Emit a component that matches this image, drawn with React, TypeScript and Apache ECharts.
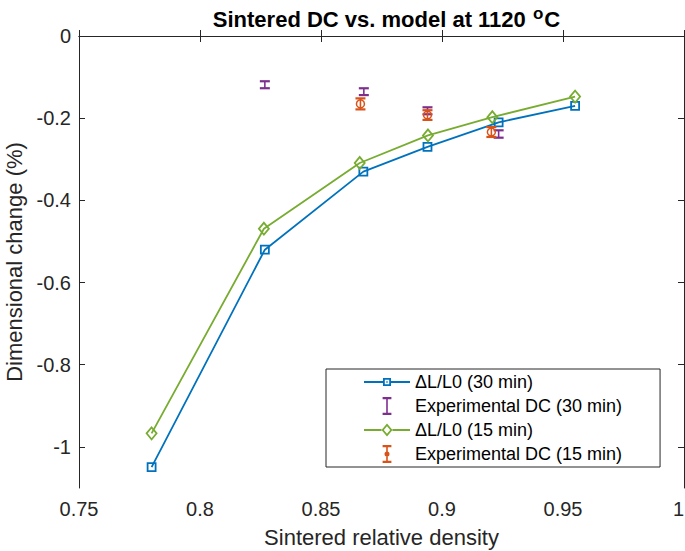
import React, { useEffect, useRef } from 'react';
import * as echarts from 'echarts';

const xTicks = [0.75, 0.8, 0.85, 0.9, 0.95, 1];
const yTicks = [0, -0.2, -0.4, -0.6, -0.8, -1];

const density30 = [0.78, 0.8268, 0.8675, 0.894, 0.9234, 0.955];
const model30 = [-1.049, -0.52, -0.33, -0.27, -0.21, -0.17];
const density15 = [0.78, 0.8264, 0.866, 0.8942, 0.9208, 0.955];
const model15 = [-0.967, -0.469, -0.309, -0.242, -0.1976, -0.1475];

const expDensity30 = [0.8268, 0.8677, 0.894, 0.9234];
const expDC30 = [-0.1186, -0.1355, -0.182, -0.2385];
const expErr30 = [0.0085, 0.0083, 0.0085, 0.009];

const expDensity15 = [0.8663, 0.894, 0.9204];
const expDC15 = [-0.1652, -0.1924, -0.2337];
const expErr15 = [0.0134, 0.0118, 0.012];

const seriesNames = [
  '\u0394L/L0 (30 min)',
  'Experimental DC (30 min)',
  '\u0394L/L0 (15 min)',
  'Experimental DC (15 min)',
];

const BLUE = '#0072BD';
const PURPLE = '#7E2F8E';
const GREEN = '#77AC30';
const ORANGE = '#D95319';
const AXIS = '#262626';
const FONT = 'Arial, "Liberation Sans", Helvetica, sans-serif';

const errRender = (withCircle: boolean) => (params: any, api: any) => {
  const x = api.value(0);
  const y = api.value(1);
  const e = api.value(2);
  const top = api.coord([x, y + e]);
  const bot = api.coord([x, y - e]);
  const mid = api.coord([x, y]);
  const color = api.visual('color');
  const st = { stroke: color, lineWidth: 2.2, fill: null };
  const children: any[] = [
    { type: 'line', shape: { x1: top[0], y1: top[1], x2: bot[0], y2: bot[1] }, style: { stroke: color, lineWidth: 1.6 } },
    { type: 'line', shape: { x1: top[0] - 5, y1: top[1], x2: top[0] + 5, y2: top[1] }, style: st },
    { type: 'line', shape: { x1: bot[0] - 5, y1: bot[1], x2: bot[0] + 5, y2: bot[1] }, style: st },
  ];
  if (withCircle) {
    children.push({
      type: 'circle',
      shape: { cx: mid[0], cy: mid[1], r: 4 },
      style: { stroke: color, fill: 'none', lineWidth: 1.5 },
    });
  }
  return { type: 'group', children };
};

// legend icon paths in a 46 x 18 box (tiny corner anchors keep the box size)
const anchors = 'M0,0L0.01,0L0,0.01Z M46,18L45.99,18L46,17.99Z ';
const ibeam = 'M18.6,0H27.4V2.2H23.8V15.8H27.4V18H18.6V15.8H22.2V2.2H18.6Z';
const dot = ' M25.5,9A2.5,2.5,0,1,1,20.5,9A2.5,2.5,0,1,1,25.5,9Z';
const squareIcon =
  'M0,8.1H19V9.9H0Z M27,8.1H46V9.9H27Z ' +
  'M19,5H27V13H19Z M20.8,11.2H25.2V6.8H20.8Z ' +
  'M22.3,8.3H23.7V9.7H22.3Z';
const diamondIcon =
  'M0,8.1H17.5V9.9H0Z M28.5,8.1H46V9.9H28.5Z ' +
  'M23,2.5L28.5,9L23,15.5L17.5,9Z M23,5.2L19.8,9L23,12.8L26.2,9Z';

export default function App() {
  const ref = useRef<HTMLDivElement>(null);
  useEffect(() => {
    if (!ref.current) return;
    const chart = echarts.init(ref.current, null, { renderer: 'svg' });
    const tickCommon = { show: true, inside: true, length: 6, customValues: xTicks, lineStyle: { color: AXIS, width: 1 } };
    const yTickCommon = { show: true, inside: true, length: 6, customValues: yTicks, lineStyle: { color: AXIS, width: 1 } };
    chart.setOption({
      animation: false,
      backgroundColor: '#fff',
      title: {
        text: 'Sintered DC vs. model at 1120 {sup|o}C',
        left: 381.5,
        textAlign: 'center',
        top: 0,
        textStyle: {
          fontFamily: FONT,
          fontSize: 22,
          fontWeight: 'bold',
          color: '#000',
          rich: {
            sup: { fontFamily: FONT, fontSize: 17, fontWeight: 'bold', color: '#000', padding: [0, 1, 12, 1] },
          },
        },
      },
      grid: { left: 79, right: 1, top: 36, bottom: 63, containLabel: false, outerBoundsMode: 'none' },
      legend: {
        orient: 'vertical',
        left: 326,
        top: 369,
        padding: [4, 38, 4, 38],
        itemWidth: 46,
        itemHeight: 18,
        itemGap: 6,
        backgroundColor: '#fff',
        borderColor: AXIS,
        borderWidth: 1,
        textStyle: { fontFamily: FONT, fontSize: 18, color: '#000', lineHeight: 18 },
        data: [
          { name: seriesNames[0], icon: 'path://' + anchors + squareIcon, itemStyle: { color: BLUE, borderWidth: 0 } },
          { name: seriesNames[1], icon: 'path://' + anchors + ibeam, itemStyle: { color: PURPLE, borderWidth: 0 } },
          { name: seriesNames[2], icon: 'path://' + anchors + diamondIcon, itemStyle: { color: GREEN, borderWidth: 0 } },
          { name: seriesNames[3], icon: 'path://' + anchors + ibeam + dot, itemStyle: { color: ORANGE, borderWidth: 0 } },
        ],
      },
      xAxis: [
        {
          type: 'value',
          min: 0.75,
          max: 1,
          position: 'bottom',
          name: 'Sintered relative density',
          nameLocation: 'middle',
          nameGap: 38,
          nameTextStyle: { fontFamily: FONT, fontSize: 22, color: AXIS },
          axisLine: { show: true, lineStyle: { color: AXIS, width: 1 } },
          axisTick: tickCommon,
          axisLabel: { customValues: xTicks, margin: 11, fontFamily: FONT, fontSize: 20, color: AXIS, alignMaxLabel: 'right' },
          splitLine: { show: false },
        },
        {
          type: 'value',
          min: 0.75,
          max: 1,
          position: 'top',
          axisLine: { show: true, lineStyle: { color: AXIS, width: 1 } },
          axisTick: tickCommon,
          axisLabel: { show: false },
          splitLine: { show: false },
        },
      ],
      yAxis: [
        {
          type: 'value',
          min: -1.1,
          max: 0,
          position: 'left',
          name: 'Dimensional change (%)',
          nameLocation: 'middle',
          nameGap: 46,
          nameRotate: 90,
          nameTextStyle: { fontFamily: FONT, fontSize: 22, color: AXIS },
          axisLine: { show: true, lineStyle: { color: AXIS, width: 1 } },
          axisTick: yTickCommon,
          axisLabel: { customValues: yTicks, margin: 8, fontFamily: FONT, fontSize: 20, color: AXIS },
          splitLine: { show: false },
        },
        {
          type: 'value',
          min: -1.1,
          max: 0,
          position: 'right',
          axisLine: { show: true, lineStyle: { color: AXIS, width: 1 } },
          axisTick: yTickCommon,
          axisLabel: { show: false },
          splitLine: { show: false },
        },
      ],
      series: [
        {
          name: seriesNames[0],
          type: 'line',
          data: density30.map((d, i) => [d, model30[i]]),
          symbol: 'rect',
          symbolSize: 8,
          lineStyle: { color: BLUE, width: 1.8 },
          itemStyle: { color: 'rgba(255,255,255,0)', borderColor: BLUE, borderWidth: 1.8 },
          z: 2,
        },
        {
          name: seriesNames[1],
          type: 'custom',
          data: expDensity30.map((d, i) => [d, expDC30[i], expErr30[i]]),
          encode: { x: 0, y: 1 },
          renderItem: errRender(false),
          itemStyle: { color: PURPLE },
          z: 3,
        },
        {
          name: seriesNames[2],
          type: 'line',
          data: density15.map((d, i) => [d, model15[i]]),
          symbol: 'diamond',
          symbolSize: [10, 12],
          lineStyle: { color: GREEN, width: 1.8 },
          itemStyle: { color: 'rgba(255,255,255,0)', borderColor: GREEN, borderWidth: 1.8 },
          z: 4,
        },
        {
          name: seriesNames[3],
          type: 'custom',
          data: expDensity15.map((d, i) => [d, expDC15[i], expErr15[i]]),
          encode: { x: 0, y: 1 },
          renderItem: errRender(true),
          itemStyle: { color: ORANGE },
          z: 5,
        },
      ],
    });
    return () => chart.dispose();
  }, []);
  return <div ref={ref} style={{ width: 685, height: 551, position: 'absolute', left: 0, top: 0 }} />;
}
